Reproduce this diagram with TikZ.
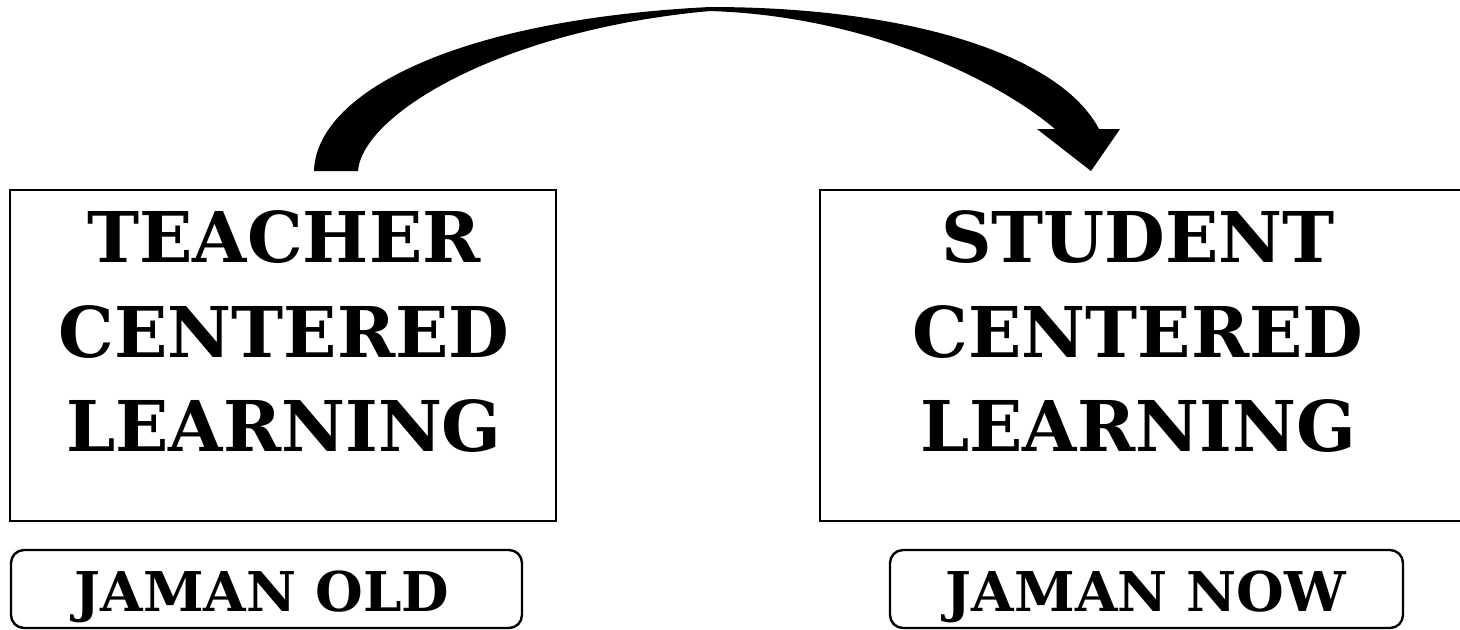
\documentclass[tikz,border=0pt]{standalone}
\usepackage{fontspec}
\setmainfont{DejaVu Serif}
\begin{document}
\begin{tikzpicture}[x=0.5pt,y=-0.5pt,
  bigbox/.style={draw=black,line width=1pt},
  tagbox/.style={draw=black,line width=1.2pt,rounded corners=6.5pt},
  bigtext/.style={font=\fontsize{35}{47.25}\selectfont\bfseries,align=center,inner sep=0pt},
  tagtext/.style={font=\fontsize{27.4}{30}\selectfont\bfseries,inner sep=0pt}]
\useasboundingbox (0,0) rectangle (1460,629);
\clip (0,0) rectangle (1460,629);
\fill[white] (0,0) rectangle (1460,629);
% boxes
\draw[bigbox] (10,190) rectangle (556,521);
\draw[bigbox] (820,190) rectangle (1475,521);
\draw[tagbox] (11,550) rectangle (522,628);
\draw[tagbox] (890,550) rectangle (1403,628);
% texts
\node[bigtext] (teacher) at (284,332) {TEACHER\\CENTERED\\LEARNING};
\node[bigtext] (student) at (1138,332) {STUDENT\\CENTERED\\LEARNING};
\node[tagtext] (old) at (262,597) {JAMAN OLD};
\node[tagtext] (now) at (1146,597) {JAMAN NOW};
% curved arrow
\fill[black] (314,171) .. controls (316,95) and (450,20) .. (710,7)
  .. controls (910,7) and (1060,55) .. (1099,129)
  -- (1120,129) -- (1091,171) -- (1037,129) -- (1055,129)
  .. controls (1000,82) and (870,16) .. (710,11)
  .. controls (500,30) and (362,115) .. (358,171) -- cycle;
\end{tikzpicture}
\end{document}
